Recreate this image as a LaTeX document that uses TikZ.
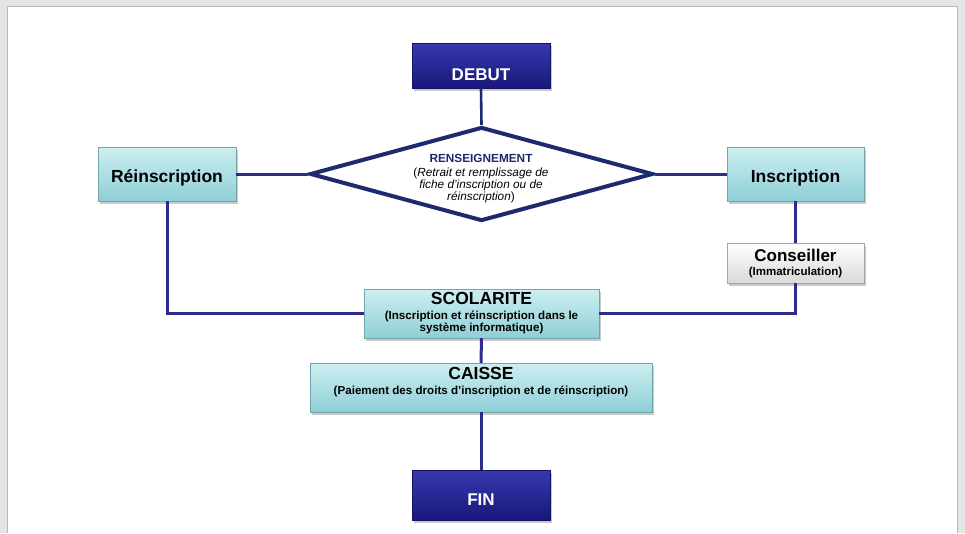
\documentclass[tikz,border=0pt]{standalone}
\usepackage{fontspec}
\setmainfont{Liberation Sans}
\usetikzlibrary{shapes.geometric,shadows}
\definecolor{navy}{HTML}{1C2B6E}
\definecolor{conn}{HTML}{2C2C8E}
\definecolor{cyantop}{HTML}{CDEFF1}
\definecolor{cyanbot}{HTML}{8ECFD6}
\definecolor{bluetop}{HTML}{3838B0}
\definecolor{bluebot}{HTML}{18187A}
\tikzset{
  shade/.style={drop shadow={shadow xshift=2pt,shadow yshift=-2.5pt,opacity=0.35,fill=black!60}},
  bluebox/.style={rectangle,inner sep=0,minimum width=138pt,minimum height=46pt,top color=bluetop,bottom color=bluebot,draw=bluebot!80!black,line width=0.4pt,shade},
  cyanbox/.style={rectangle,inner sep=0,top color=cyantop,bottom color=cyanbot,draw=cyanbot!80!black,line width=0.4pt,shade},
  greybox/.style={rectangle,inner sep=0,top color=white,bottom color=black!15,draw=black!35,line width=0.4pt,shade},
  conline/.style={draw=conn,line width=3pt},
  txt/.style={inner sep=0,align=center},
}
\begin{document}
\begin{tikzpicture}[x=1pt,y=-1pt]
\useasboundingbox (0,0) rectangle (965,533);
\fill[black!10] (0,0) rectangle (965,533);
\fill[white] (7,6) rectangle (957,533);
\draw[black!28,line width=0.8pt] (7,533) -- (7,6) -- (957,6) -- (957,533);

% nodes
\node[bluebox,minimum width=138pt,minimum height=45pt] (debut) at (481,65.5) {};
\node[txt,text=white,font=\bfseries\fontsize{17}{17}\selectfont] (tdebut) at (481,75) {DEBUT};

\node[diamond,draw=navy,line width=4pt,fill=white,inner sep=0,minimum width=343pt,minimum height=94pt] (dia) at (481.5,174) {};
\node[txt,text=navy,font=\bfseries\fontsize{11.8}{12}\selectfont] (tren) at (481,158) {RENSEIGNEMENT};
\node[txt,font=\fontsize{11.8}{12}\selectfont,anchor=north] (tren2) at (481,167.5) {(\textit{Retrait et remplissage de}\\\textit{fiche d'inscription ou de}\\\textit{réinscription})};

\node[cyanbox,minimum width=138pt,minimum height=54pt] (rein) at (167,174) {};
\node[txt,font=\bfseries\fontsize{17.5}{17.5}\selectfont] (trein) at (167,178) {Réinscription};

\node[cyanbox,minimum width=137pt,minimum height=54pt] (insc) at (795.5,174) {};
\node[txt,font=\bfseries\fontsize{17.5}{17.5}\selectfont] (tinsc) at (795.5,178) {Inscription};

\node[greybox,minimum width=137pt,minimum height=40pt] (cons) at (795.5,263) {};
\node[txt,font=\bfseries\fontsize{17}{17}\selectfont] (tcons) at (795.5,255) {Conseiller};
\node[txt,font=\bfseries\fontsize{11.5}{11.5}\selectfont] (tcons2) at (795.5,273) {(Immatriculation)};

\node[cyanbox,minimum width=235pt,minimum height=49pt] (scol) at (481.5,313.5) {};
\node[txt,font=\bfseries\fontsize{17.5}{17.5}\selectfont] (tscol) at (481.5,298) {SCOLARITE};
\node[txt,font=\bfseries\fontsize{11.6}{11.6}\selectfont,anchor=north] (tscol2) at (481.5,311) {(Inscription et réinscription dans le\\système informatique)};

\node[cyanbox,minimum width=342pt,minimum height=49pt] (caisse) at (481,387.5) {};
\node[txt,font=\bfseries\fontsize{17.5}{17.5}\selectfont] (tcaisse) at (481,373) {CAISSE};
\node[txt,font=\bfseries\fontsize{11.6}{11.6}\selectfont] (tcaisse2) at (481,391) {(Paiement des droits d’inscription et de réinscription)};

\node[bluebox,minimum width=138pt,minimum height=50pt] (fin) at (481,495) {};
\node[txt,text=white,font=\bfseries\fontsize{17}{17}\selectfont] (tfin) at (481,500) {FIN};

% connectors
\draw[conline,draw=navy,line width=2.6pt] (debut.south) -- (dia.north);
\draw[conline] (dia.west) -- (rein.east);
\draw[conline] (dia.east) -- (insc.west);
\draw[conline] (rein.south) |- (scol.west);
\draw[conline] (insc.south) -- (cons.north);
\draw[conline] (cons.south) |- (scol.east);
\draw[conline] (scol.south) -- (caisse.north);
\draw[conline] (caisse.south) -- (fin.north);
\end{tikzpicture}
\end{document}
